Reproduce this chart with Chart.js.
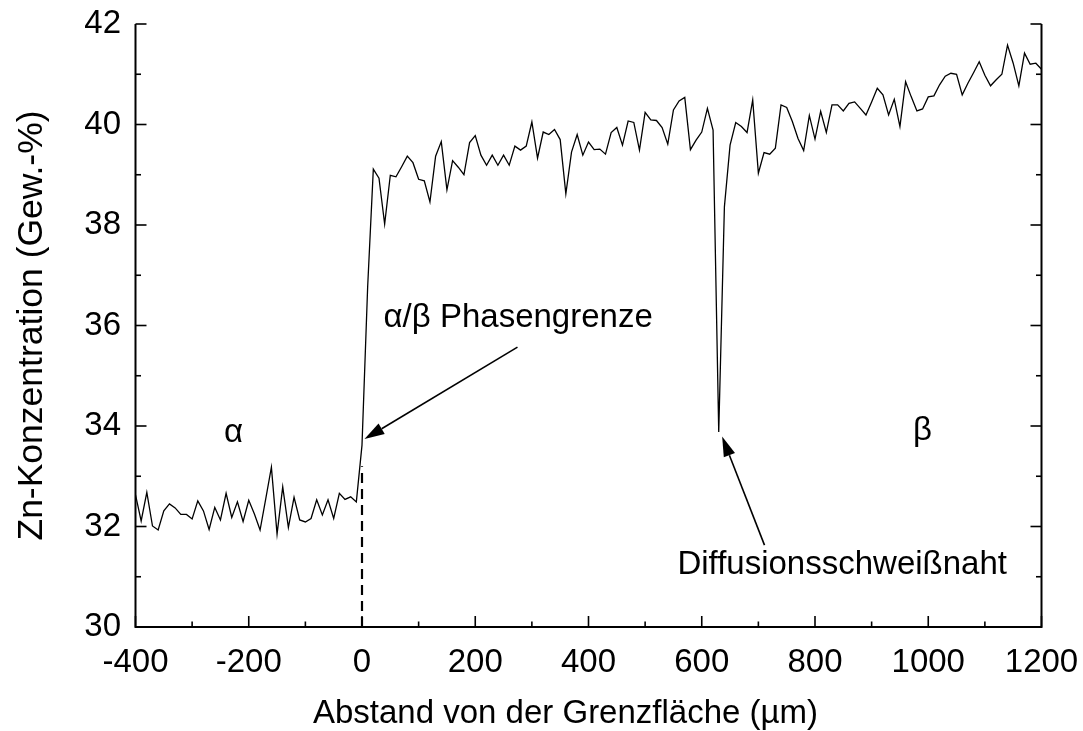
<!DOCTYPE html>
<html><head><meta charset="utf-8">
<script src="https://cdn.jsdelivr.net/npm/chart.js@4/dist/chart.umd.min.js"></script>
<style>html,body{margin:0;padding:0;background:#fff;}canvas{display:block;}</style>
</head><body>
<canvas id="c" width="1083" height="731"></canvas>
<script>
const distance = [-400,-390,-380,-370,-360,-350,-340,-330,-320,-310,-300,-290,-280,-270,-260,-250,-240,-230,-220,-210,-200,-190,-180,-170,-160,-150,-140,-130,-120,-110,-100,-90,-80,-70,-60,-50,-40,-30,-20,-10,0,10,20,30,40,50,60,70,80,90,100,110,120,130,140,150,160,170,180,190,200,210,220,230,240,250,260,270,280,290,300,310,320,330,340,350,360,370,380,390,400,410,420,430,440,450,460,470,480,490,500,510,520,530,540,550,560,570,580,590,600,610,620,630,640,650,660,670,680,690,700,710,720,730,740,750,760,770,780,790,800,810,820,830,840,850,860,870,880,890,900,910,920,930,940,950,960,970,980,990,1000,1010,1020,1030,1040,1050,1060,1070,1080,1090,1100,1110,1120,1130,1140,1150,1160,1170,1180,1190,1200];
const zinc = [32.63,32.11,32.68,32.01,31.93,32.31,32.45,32.37,32.24,32.24,32.15,32.51,32.31,31.94,32.38,32.13,32.66,32.18,32.49,32.10,32.52,32.25,31.93,32.55,33.18,31.85,32.79,31.98,32.58,32.13,32.09,32.16,32.53,32.23,32.53,32.16,32.66,32.54,32.59,32.49,
33.62,36.77,39.11,38.93,38.02,38.99,38.96,39.16,39.37,39.24,38.91,38.88,38.46,39.37,39.66,38.70,39.28,39.15,39.00,39.64,
39.78,39.39,39.19,39.39,39.19,39.39,39.19,39.57,39.49,39.57,40.05,39.33,39.85,39.80,39.90,39.70,38.62,39.45,39.80,39.39,
39.65,39.50,39.51,39.41,39.84,39.94,39.59,40.07,40.04,39.49,40.24,40.09,40.08,39.94,39.61,40.29,40.47,40.54,39.50,39.69,
39.85,40.32,39.89,33.88,38.36,39.59,40.04,39.96,39.84,40.49,39.03,39.44,39.41,39.53,40.39,40.34,40.06,39.72,39.48,40.18,
39.71,40.26,39.84,40.39,40.39,40.27,40.42,40.45,40.32,40.19,40.45,40.72,40.59,40.19,40.50,39.96,40.85,40.55,40.27,40.31,
40.55,40.57,40.79,40.96,41.02,41.00,40.59,40.82,41.03,41.25,40.98,40.77,40.89,41.00,41.58,41.22,40.77,41.42,41.20,41.22,41.10];
const boundaryX = [0, 0];
const boundaryY = [30, 33.2];
const xMajorTicks = [-400,-200,0,200,400,600,800,1000,1200];
const xMinorTicks = [-300,-100,100,300,500,700,900,1100];
const yMajorTicks = [30,32,34,36,38,40,42];
const yMinorTicks = [31,33,35,37,39,41];
const xTitle = 'Abstand von der Grenzfläche (µm)';
const yTitle = 'Zn-Konzentration (Gew.-%)';
const noteText = ['α','β','α/β Phasengrenze','Diffusionsschweißnaht'];
const noteX = [-227, 990, 38, 557];
const noteY = [33.68, 33.72, 35.98, 31.05];
const noteAlign = ['center','center','left','left'];
const arrowFromX = [274.6, 710.8];
const arrowFromY = [35.57, 31.63];
const arrowToX = [4.4, 636];
const arrowToY = [33.74, 33.79];

const FONT = '"Liberation Sans", Arial, sans-serif';

const framePlugin = {
  id: 'frame',
  afterDatasetsDraw(chart) {
    const {ctx, chartArea: a, scales: {x, y}} = chart;
    ctx.save();
    ctx.strokeStyle = '#000';
    ctx.lineWidth = 2;
    ctx.lineCap = 'butt';
    ctx.beginPath();
    ctx.moveTo(a.left, a.top); ctx.lineTo(a.left, a.bottom); ctx.lineTo(a.right, a.bottom); ctx.lineTo(a.right, a.top);
    ctx.stroke();
    ctx.lineWidth = 1.6;
    const tk = (vals, len) => {
      vals.forEach(v => {
        const px = x.getPixelForValue(v);
        ctx.beginPath(); ctx.moveTo(px, a.bottom); ctx.lineTo(px, a.bottom - len); ctx.stroke();
      });
    };
    tk(xMajorTicks, 11); tk(xMinorTicks, 5.5);
    const ty = (vals, len) => {
      vals.forEach(v => {
        const py = y.getPixelForValue(v);
        ctx.beginPath(); ctx.moveTo(a.left, py); ctx.lineTo(a.left + len, py); ctx.stroke();
        ctx.beginPath(); ctx.moveTo(a.right, py); ctx.lineTo(a.right - len, py); ctx.stroke();
      });
    };
    ty(yMajorTicks, 11); ty(yMinorTicks, 5.5);

    ctx.fillStyle = '#000';
    ctx.font = '33px ' + FONT;
    // x-axis title (offset left of centre as in the original)
    ctx.textAlign = 'center';
    ctx.textBaseline = 'middle';
    ctx.fillText(xTitle, a.left + 430, chart.height - 17);

    ctx.textBaseline = 'alphabetic';
    noteText.forEach((t, i) => {
      ctx.textAlign = noteAlign[i];
      ctx.fillText(t, x.getPixelForValue(noteX[i]), y.getPixelForValue(noteY[i]));
    });
    arrowFromX.forEach((fx, i) => {
      const x0 = x.getPixelForValue(fx), y0 = y.getPixelForValue(arrowFromY[i]);
      const x1 = x.getPixelForValue(arrowToX[i]), y1 = y.getPixelForValue(arrowToY[i]);
      const ang = Math.atan2(y1 - y0, x1 - x0);
      const hl = 20, hw = 6;
      const bx = x1 - hl * Math.cos(ang), by = y1 - hl * Math.sin(ang);
      ctx.lineWidth = 1.6;
      ctx.beginPath(); ctx.moveTo(x0, y0); ctx.lineTo(bx, by); ctx.stroke();
      ctx.beginPath();
      ctx.moveTo(x1, y1);
      ctx.lineTo(bx + hw * Math.sin(ang), by - hw * Math.cos(ang));
      ctx.lineTo(bx - hw * Math.sin(ang), by + hw * Math.cos(ang));
      ctx.closePath(); ctx.fill();
    });
    ctx.restore();
  }
};

const zeroPad = s => { s.paddingLeft = 0; s.paddingRight = 0; s.paddingTop = 0; s.paddingBottom = 0; };

new Chart(document.getElementById('c'), {
  type: 'line',
  data: {
    datasets: [
      { data: distance.map((d, i) => ({x: d, y: zinc[i]})), borderColor: '#000', borderWidth: 1.3, pointRadius: 0, tension: 0, fill: false },
      { data: boundaryX.map((d, i) => ({x: d, y: boundaryY[i]})), borderColor: '#000', borderWidth: 2.2, borderDash: [10, 6], pointRadius: 0, fill: false }
    ]
  },
  options: {
    responsive: false, animation: false, devicePixelRatio: 1,
    layout: { padding: { left: 0, top: 24, right: 41.5, bottom: 0 } },
    plugins: { legend: { display: false }, tooltip: { enabled: false } },
    scales: {
      x: {
        type: 'linear', min: -400, max: 1200,
        afterBuildTicks: s => { s.ticks = xMajorTicks.map(v => ({value: v})); },
        grid: { display: false, drawTicks: false }, border: { display: false },
        ticks: { font: { family: FONT, size: 33 }, color: '#000', padding: 16, maxRotation: 0, autoSkip: false, callback: v => String(v) },
        title: { display: false },
        afterFit: s => { s.height = 104; zeroPad(s); }
      },
      y: {
        type: 'linear', min: 30, max: 42,
        afterBuildTicks: s => { s.ticks = yMajorTicks.map(v => ({value: v})); },
        grid: { display: false, drawTicks: false }, border: { display: false },
        ticks: { font: { family: FONT, size: 33 }, color: '#000', padding: 14.5, autoSkip: false, callback: v => String(v) },
        title: { display: true, text: yTitle, color: '#000', font: { family: FONT, size: 35.5, lineHeight: 1 }, padding: { top: 14.5, bottom: 0 } },
        afterFit: s => { s.width = 135.5; zeroPad(s); }
      }
    }
  },
  plugins: [framePlugin]
});
</script>
</body></html>
